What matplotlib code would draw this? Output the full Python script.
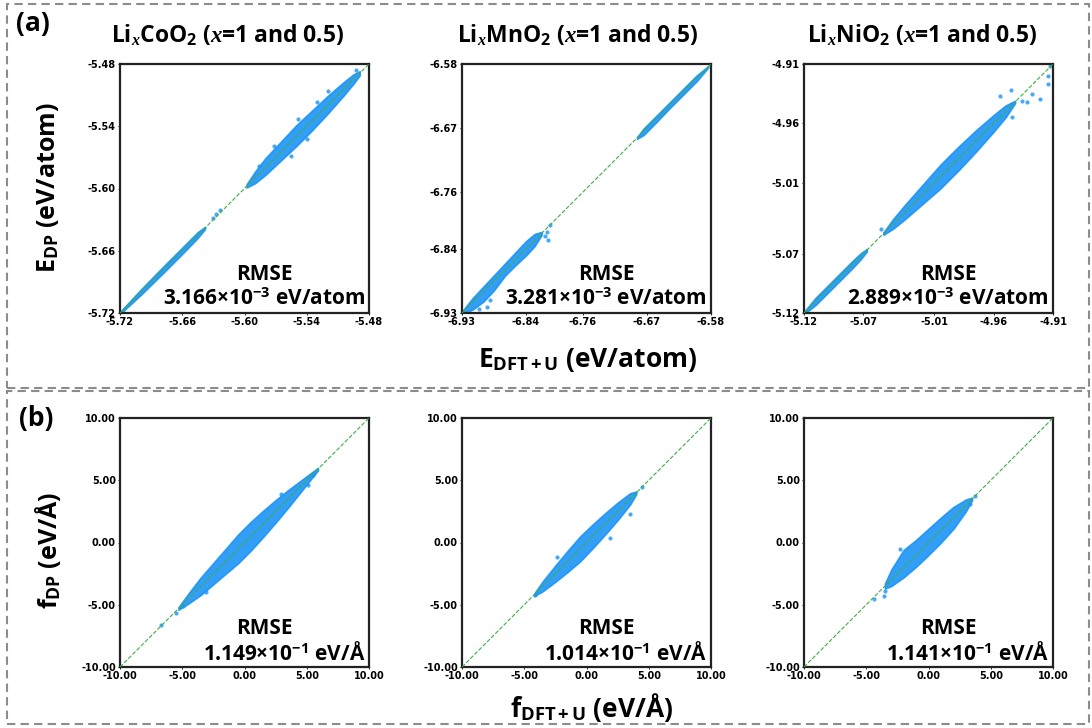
from matplotlib import pyplot as plt
from matplotlib.patches import Rectangle

plt.rcParams["font.family"] = ["Open Sans", "DejaVu Sans"]
plt.rcParams["font.weight"] = "bold"
plt.rcParams["mathtext.fontset"] = "custom"
plt.rcParams["mathtext.rm"] = "Open Sans:bold"
plt.rcParams["mathtext.bf"] = "Open Sans:bold"
plt.rcParams["mathtext.it"] = "Liberation Serif:italic"

DOT = "#1c94f6"
DIAG = "#3cb043"

TITLES = ["Li$_x$CoO$_2$ ($x$=1 and 0.5)",
          "Li$_x$MnO$_2$ ($x$=1 and 0.5)",
          "Li$_x$NiO$_2$ ($x$=1 and 0.5)"]
TITLE_X = [228, 578, 922]

# axis ranges / ticks
E_LIMS = [(-5.72, -5.48), (-6.93, -6.58), (-5.12, -4.91)]
E_TICKS = [[-5.72, -5.66, -5.60, -5.54, -5.48],
           [-6.93, -6.84, -6.76, -6.67, -6.58],
           [-5.12, -5.07, -5.01, -4.96, -4.91]]
F_LIM = (-10.0, 10.0)
F_TICKS = [-10.0, -5.0, 0.0, 5.0, 10.0]

E_RMSE = ["3.166", "3.281", "2.889"]
F_RMSE = ["1.149", "1.014", "1.141"]

# point clouds: position along the diagonal, spread above / below
CO_E_T1 = [-5.720, -5.700, -5.680, -5.660, -5.645, -5.638]
CO_E_HI1 = [0.001, 0.0025, 0.003, 0.003, 0.003, 0.001]
CO_E_LO1 = [0.001, 0.0025, 0.003, 0.003, 0.0025, 0.001]
CO_E_T2 = [-5.598, -5.590, -5.580, -5.565, -5.550, -5.535, -5.520, -5.505, -5.495, -5.489]
CO_E_HI2 = [0.002, 0.006, 0.009, 0.010, 0.011, 0.010, 0.009, 0.007, 0.005, 0.002]
CO_E_LO2 = [0.001, 0.005, 0.007, 0.008, 0.009, 0.009, 0.008, 0.006, 0.004, 0.002]
CO_E_X = [-5.630, -5.627, -5.624, -5.555, -5.548, -5.586, -5.520, -5.493, -5.572, -5.540, -5.530]
CO_E_Y = [-5.628, -5.625, -5.621, -5.569, -5.533, -5.578, -5.506, -5.486, -5.559, -5.552, -5.517]

MN_E_T1 = [-6.930, -6.915, -6.900, -6.885, -6.870, -6.855, -6.840, -6.828, -6.818]
MN_E_HI1 = [0.002, 0.006, 0.007, 0.008, 0.009, 0.010, 0.011, 0.009, 0.002]
MN_E_LO1 = [0.002, 0.010, 0.014, 0.013, 0.008, 0.008, 0.009, 0.008, 0.002]
MN_E_T2 = [-6.684, -6.675, -6.660, -6.640, -6.620, -6.600, -6.584]
MN_E_HI2 = [0.001, 0.004, 0.004, 0.004, 0.004, 0.004, 0.001]
MN_E_LO2 = [0.001, 0.005, 0.005, 0.004, 0.004, 0.004, 0.001]
MN_E_X = [-6.8085, -6.807, -6.813, -6.810, -6.906, -6.895, -6.890]
MN_E_Y = [-6.8273, -6.806, -6.822, -6.816, -6.924, -6.921, -6.912]

NI_E_T1 = [-5.120, -5.110, -5.100, -5.090, -5.080, -5.072, -5.067]
NI_E_HI1 = [0.001, 0.003, 0.003, 0.003, 0.003, 0.0025, 0.001]
NI_E_LO1 = [0.001, 0.003, 0.003, 0.003, 0.003, 0.0025, 0.001]
NI_E_T2 = [-5.053, -5.045, -5.035, -5.020, -5.005, -4.990, -4.975, -4.960, -4.950, -4.942]
NI_E_HI2 = [0.001, 0.004, 0.006, 0.008, 0.010, 0.010, 0.009, 0.007, 0.005, 0.001]
NI_E_LO2 = [0.001, 0.004, 0.006, 0.008, 0.010, 0.010, 0.009, 0.007, 0.005, 0.001]
NI_E_X = [-4.9452, -4.9545, -4.9278, -4.9208, -4.9138, -4.9138, -4.9124, -4.9447, -4.932, -4.936, -5.055]
NI_E_Y = [-4.9322, -4.9370, -4.9350, -4.9392, -4.9265, -4.9201, -4.9117, -4.9547, -4.942, -4.941, -5.049]

CO_F_T = [-5.3, -4.5, -3.5, -2.5, -1.5, -0.5, 0.5, 1.5, 2.5, 3.5, 4.5, 5.3, 5.9]
CO_F_HI = [0.1, 0.4, 0.7, 0.85, 1.0, 1.15, 1.15, 1.05, 0.9, 0.7, 0.45, 0.25, 0.1]
CO_F_LO = [0.1, 0.4, 0.7, 0.85, 1.0, 1.15, 1.15, 1.05, 0.9, 0.7, 0.45, 0.25, 0.1]
CO_F_X = [-6.73, -5.48, 5.10, 5.50, -4.9, -3.1, 2.9]
CO_F_Y = [-6.65, -5.63, 4.60, 5.40, -5.1, -4.0, 3.9]

MN_F_T = [-4.2, -3.5, -2.5, -1.5, -0.5, 0.5, 1.5, 2.5, 3.5, 4.0]
MN_F_HI = [0.1, 0.4, 0.65, 0.85, 1.0, 0.95, 0.85, 0.7, 0.45, 0.1]
MN_F_LO = [0.1, 0.4, 0.65, 0.85, 1.0, 0.95, 0.85, 0.7, 0.45, 0.1]
MN_F_X = [4.43, 3.49, 1.89, -4.1, -2.4]
MN_F_Y = [4.49, 2.32, 0.39, -4.2, -1.2]

NI_F_T = [-3.5, -3.0, -2.0, -1.0, 0.0, 1.0, 2.0, 3.0, 3.5]
NI_F_HI = [0.2, 0.8, 1.4, 1.2, 1.1, 1.0, 0.85, 0.45, 0.1]
NI_F_LO = [0.2, 0.5, 0.8, 0.95, 1.0, 1.0, 0.9, 0.5, 0.1]
NI_F_X = [-4.40, -3.60, -3.50, 3.76, 3.30, -2.3]
NI_F_Y = [-4.51, -4.30, -3.90, 3.73, 3.10, -0.5]

E_CLOUDS = [[(CO_E_T1, CO_E_HI1, CO_E_LO1), (CO_E_T2, CO_E_HI2, CO_E_LO2)],
            [(MN_E_T1, MN_E_HI1, MN_E_LO1), (MN_E_T2, MN_E_HI2, MN_E_LO2)],
            [(NI_E_T1, NI_E_HI1, NI_E_LO1), (NI_E_T2, NI_E_HI2, NI_E_LO2)]]
E_POINTS = [(CO_E_X, CO_E_Y), (MN_E_X, MN_E_Y), (NI_E_X, NI_E_Y)]
F_CLOUDS = [[(CO_F_T, CO_F_HI, CO_F_LO)], [(MN_F_T, MN_F_HI, MN_F_LO)], [(NI_F_T, NI_F_HI, NI_F_LO)]]
F_POINTS = [(CO_F_X, CO_F_Y), (MN_F_X, MN_F_Y), (NI_F_X, NI_F_Y)]

W, H = 1092, 728
LEFTS = [120, 462, 804]
TOPS = [64, 418]
SIZE = 249


def panel(fig, left, top, lims, ticks, clouds, points, rmse, unit, fmt):
    ax = fig.add_axes([left / W, 1 - (top + SIZE) / H, SIZE / W, SIZE / H])
    lo, hi = lims
    ax.plot([lo, hi], [lo, hi], ls="--", color=DIAG, lw=0.8, zorder=3)
    for t, up, down in clouds:
        ax.fill_between(t, [a - b for a, b in zip(t, down)], [a + b for a, b in zip(t, up)],
                        color=DOT, alpha=0.9, lw=1.2, edgecolor=DOT, zorder=2)
    ax.scatter(points[0], points[1], s=9, color=DOT, alpha=0.8, lw=0, zorder=2)
    ax.set_xlim(lo, hi)
    ax.set_ylim(lo, hi)
    ax.set_xticks(ticks)
    ax.set_yticks(ticks)
    ax.set_xticklabels([fmt % v for v in ticks], family="DejaVu Sans", fontsize=7, fontweight="bold")
    ax.set_yticklabels([fmt % v for v in ticks], family="DejaVu Sans", fontsize=7, fontweight="bold")
    ax.tick_params(length=1.5, width=0.6, pad=1.5)
    for s in ax.spines.values():
        s.set_linewidth(1.6)
        s.set_color("#222222")
    ax.text(0.58, 0.155, "RMSE", transform=ax.transAxes, ha="center", va="center",
            fontsize=15, fontweight="bold")
    ax.text(0.985, 0.055, rmse + unit, transform=ax.transAxes, ha="right", va="center",
            fontsize=15, fontweight="bold")
    return ax


def main():
    fig = plt.figure(figsize=(W / 100, H / 100), dpi=100)

    # dashed frames round (a) and (b)
    for y0, y1 in [(4, 388), (391, 724)]:
        fig.add_artist(Rectangle((7 / W, 1 - y1 / H), 1082 / W, (y1 - y0) / H, transform=fig.transFigure,
                                 fill=False, ls=(0, (4, 2.5)), lw=1.5, edgecolor="#8c8c8c"))

    for i in range(3):
        panel(fig, LEFTS[i], TOPS[0], E_LIMS[i], E_TICKS[i], E_CLOUDS[i], E_POINTS[i],
              E_RMSE[i], "×10$^{-3}$ eV/atom", "%.2f")
        fig.text(TITLE_X[i] / W, 1 - 43 / H, TITLES[i], fontsize=16.5, fontweight="bold",
                 ha="center", va="baseline")
        panel(fig, LEFTS[i], TOPS[1], F_LIM, F_TICKS, F_CLOUDS[i], F_POINTS[i],
              F_RMSE[i], "×10$^{-1}$ eV/Å", "%.2f")

    kw = dict(fontsize=19, ha="center", va="center", fontweight="bold")
    fig.text(33 / W, 1 - 23 / H, "(a)", **kw)
    fig.text(36 / W, 1 - 419 / H, "(b)", **kw)
    fig.text(48 / W, 1 - 188 / H, "E$_{\\rm DP}$ (eV/atom)", rotation=90, **dict(kw, fontsize=18))
    fig.text(48 / W, 1 - 550 / H, "f$_{\\rm DP}$ (eV/Å)", rotation=90, **dict(kw, fontsize=18))
    fig.text(588 / W, 1 - 360 / H, "E$_{\\rm DFT+U}$ (eV/atom)", **kw)
    fig.text(592 / W, 1 - 708 / H, "f$_{\\rm DFT+U}$ (eV/Å)", **kw)

    fig.savefig("out.png", dpi=100)


if __name__ == '__main__':
    main()
